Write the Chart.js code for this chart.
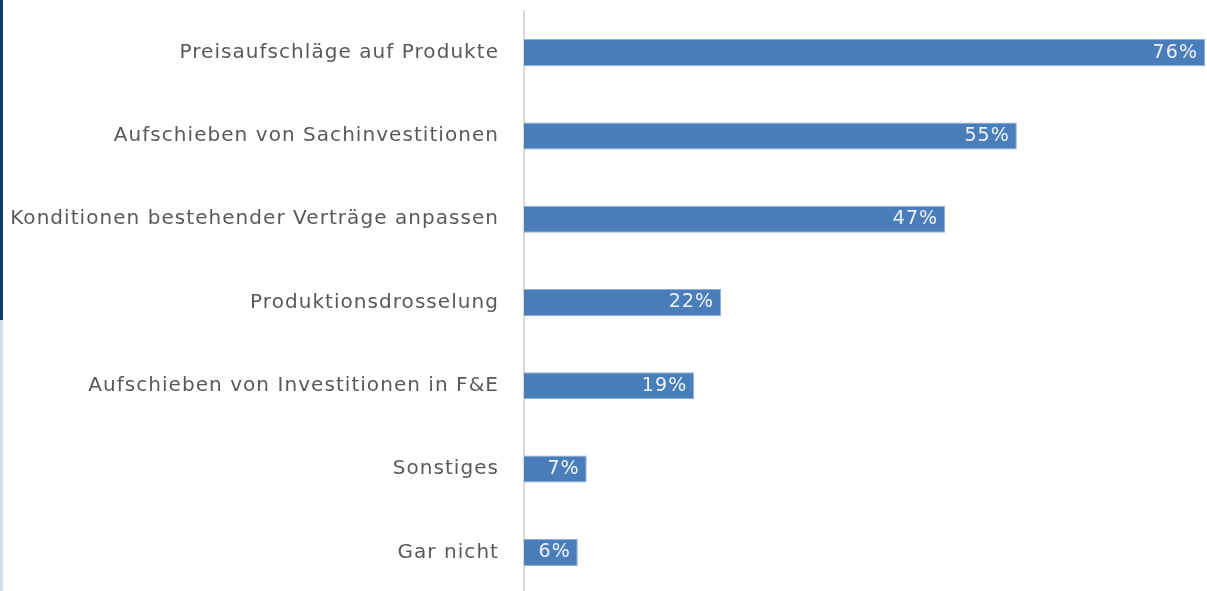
<!DOCTYPE html>
<html>
<head>
<meta charset="utf-8">
<script src="https://cdn.jsdelivr.net/npm/chart.js@4"></script>
<style>
  html, body { margin: 0; padding: 0; background: #fff; overflow: hidden; }
  #wrap { position: relative; width: 1207px; height: 600px; }
  #edgeTop { position: absolute; left: 0; top: 0; width: 3px; height: 320px; background: #0b3a6f; }
  #edgeBottom { position: absolute; left: 0; top: 320px; width: 3px; height: 280px; background: #d5dee5; }
</style>
</head>
<body>
<div id="wrap">
  <canvas id="chart" width="1207" height="600"></canvas>
  <div id="edgeTop"></div>
  <div id="edgeBottom"></div>
</div>
<script>
const categories = [
  `Preisaufschläge auf Produkte`,
  `Aufschieben von Sachinvestitionen`,
  `Konditionen bestehender Verträge anpassen`,
  `Produktionsdrosselung`,
  `Aufschieben von Investitionen in F&E`,
  `Sonstiges`,
  `Gar nicht`
];
const shares = [76, 55, 47, 22, 19, 7, 6];

// the source font is set wide, so spread the letters a little
const wideText = {
  id: `wideText`,
  beforeUpdate(chart) { chart.ctx.letterSpacing = `1.05px`; },
  beforeDraw(chart) { chart.ctx.letterSpacing = `1.05px`; }
};

const barLabels = {
  id: `barLabels`,
  afterDatasetsDraw(chart) {
    const ctx = chart.ctx;
    const meta = chart.getDatasetMeta(0);
    ctx.save();
    ctx.font = `19px "DejaVu Sans"`;
    ctx.fillStyle = `#eef3f9`;
    ctx.textAlign = `right`;
    ctx.textBaseline = `middle`;
    meta.data.forEach((bar, i) => {
      ctx.fillText(`${shares[i]}%`, bar.x - 7, bar.y);
    });
    ctx.restore();
  }
};

new Chart(document.getElementById(`chart`), {
  type: `bar`,
  data: {
    labels: categories,
    datasets: [{
      data: shares,
      backgroundColor: `#4a7ebb`,
      borderColor: `#8fb0d6`,
      borderWidth: 1,
      borderSkipped: `left`,
      barPercentage: 0.65,
      categoryPercentage: 0.5
    }]
  },
  options: {
    indexAxis: `y`,
    responsive: false,
    animation: false,
    layout: { padding: { top: 11, right: 2, bottom: 6, left: 0 } },
    plugins: { legend: { display: false }, tooltip: { enabled: false } },
    scales: {
      x: {
        display: false,
        min: 0,
        max: 76
      },
      y: {
        grid: { display: false, drawTicks: false },
        border: { color: `#d9d9d9`, width: 2 },
        ticks: {
          color: `#595959`,
          font: { family: `"DejaVu Sans"`, size: 20 },
          padding: 25
        },
        afterFit(scale) {
          scale.width = 524;
          scale.paddingTop = 0;
          scale.paddingBottom = 0;
        }
      }
    }
  },
  plugins: [wideText, barLabels]
});
</script>
</body>
</html>
